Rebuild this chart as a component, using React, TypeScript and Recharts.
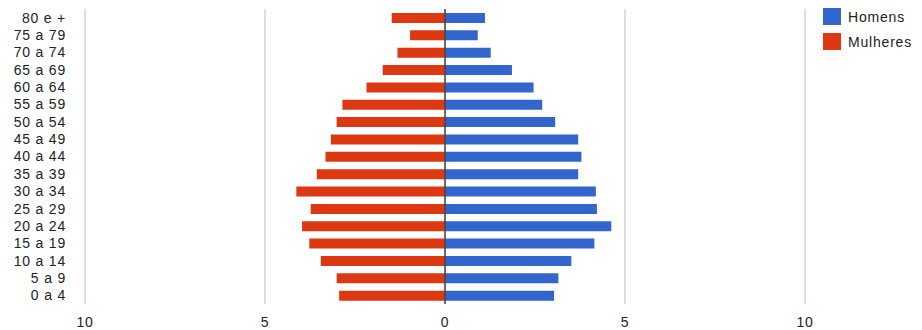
import React from 'react';
import { BarChart, Bar, XAxis, YAxis, CartesianGrid, ReferenceLine } from 'recharts';

// Faixas etárias, de cima para baixo
const ageGroups = [
  '80 e +', '75 a 79', '70 a 74', '65 a 69', '60 a 64', '55 a 59', '50 a 54', '45 a 49',
  '40 a 44', '35 a 39', '30 a 34', '25 a 29', '20 a 24', '15 a 19', '10 a 14', '5 a 9', '0 a 4',
];

// Percentual da população por sexo
const homens = [1.11, 0.91, 1.27, 1.86, 2.46, 2.7, 3.06, 3.7, 3.79, 3.7, 4.19, 4.22, 4.62, 4.15, 3.51, 3.15, 3.03];
const mulheres = [1.48, 0.97, 1.32, 1.73, 2.18, 2.85, 3.01, 3.17, 3.32, 3.56, 4.13, 3.73, 3.97, 3.77, 3.45, 3.01, 2.94];

const xTicks = [-10, -5, 0, 5, 10];

const series = [
  { key: 'homens', name: 'Homens', color: '#3366cc' },
  { key: 'mulheres', name: 'Mulheres', color: '#dc3912' },
];

const FONT = '"Liberation Sans", Arial, sans-serif';

const App: React.FC = () => {
  // mulheres ficam à esquerda do zero
  const data = ageGroups.map((age, i) => ({
    age,
    homens: homens[i],
    mulheres: -mulheres[i],
  }));

  return (
    <div style={{ position: 'absolute', left: 0, top: 0, width: 922, height: 330, background: '#fff', fontFamily: FONT }}>
      <BarChart
        width={922}
        height={330}
        data={data}
        layout="vertical"
        stackOffset="sign"
        margin={{ top: 9, right: 117, bottom: 0, left: 0 }}
      >
        <CartesianGrid horizontal={false} stroke="#d4d4d4" strokeWidth={1.5} />
        <XAxis
          type="number"
          domain={[-10, 10]}
          ticks={xTicks}
          tickFormatter={(v: number) => String(Math.abs(v))}
          axisLine={false}
          tickLine={false}
          tickMargin={7}
          height={26}
          tick={{ fill: '#222', fontSize: 14, fontFamily: FONT, letterSpacing: 0.8 }}
        />
        <YAxis
          type="category"
          dataKey="age"
          width={85}
          axisLine={false}
          tickLine={false}
          tickMargin={13}
          interval={0}
          tick={{ fill: '#222', fontSize: 14, fontFamily: FONT, letterSpacing: 0.8 }}
        />
        {series.map((s) => (
          <Bar
            key={s.key}
            dataKey={s.key}
            name={s.name}
            stackId="pop"
            fill={s.color}
            barSize={10}
            isAnimationActive={false}
          />
        ))}
        <ReferenceLine x={0} stroke="#444" strokeWidth={1.5} />
      </BarChart>
      <div style={{ position: 'absolute', left: 823, top: 8, fontSize: 14, color: '#222', letterSpacing: 0.8 }}>
        {series.map((s) => (
          <div key={s.key} style={{ display: 'flex', alignItems: 'center', height: 17, marginBottom: 8 }}>
            <span style={{ display: 'inline-block', width: 18, height: 17, background: s.color, marginRight: 7 }} />
            <span>{s.name}</span>
          </div>
        ))}
      </div>
    </div>
  );
};

export default App;
